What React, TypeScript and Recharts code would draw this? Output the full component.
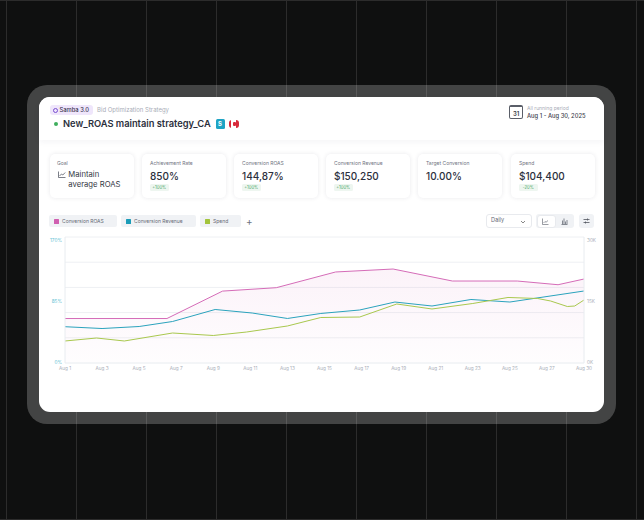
import { Area, CartesianGrid, ComposedChart, Line, XAxis, YAxis } from "recharts";

const roasDays = [1, 6.5, 9.5, 12.4, 15.6, 18.7, 21.9, 25.4, 27.6, 29];
const roasValues = [60, 60, 97, 101.6, 122.8, 126.8, 110.6, 110.6, 105.6, 113.3];

const revenueDays = [1, 3, 5, 6.8, 9.1, 11.1, 13, 14.8, 16.9, 18.8, 20.8, 22.9, 25, 29];
const revenueValues = [8.64, 8.21, 8.69, 9.88, 12.74, 11.9, 10.6, 11.79, 12.62, 14.52, 13.57, 15.12, 14.52, 17.14];

const spendDays = [1, 2.7, 4.2, 6.8, 9, 10.8, 13, 14.8, 16.9, 18.9, 20.8, 23, 24.9, 26.5, 27.2, 28.1, 28.5, 29];
const spendValues = [5.24, 5.95, 5.24, 7.14, 6.55, 7.38, 8.81, 10.83, 10.95, 14.05, 12.86, 14.17, 15.6, 15.36, 14.76, 13.45, 13.57, 15];

const dayTicks = [1, 3, 5, 7, 9, 11, 13, 15, 17, 19, 21, 23, 25, 27, 29];
const dayLabels = ["Aug 1", "Aug 3", "Aug 5", "Aug 7", "Aug 9", "Aug 11", "Aug 13", "Aug 15", "Aug 17", "Aug 19", "Aug 21", "Aug 23", "Aug 25", "Aug 27", "Aug 30"];
const leftTicks = [0, 85, 170];
const rightTicks = [0, 15, 30];
const gridValues = [34, 68, 102, 136, 170];

const backgroundLines = [6, 76, 146, 216, 286, 356, 426, 496, 566, 636];

const kpis = [
  { x: 142, label: "Achievement Rate", value: "850%", badge: "+100%" },
  { x: 234, label: "Conversion ROAS", value: "144,87%", badge: "+100%" },
  { x: 326, label: "Conversion Revenue", value: "$150,250", badge: "+100%" },
  { x: 418, label: "Target Conversion", value: "10.00%", badge: "" },
  { x: 511, label: "Spend", value: "$104,400", badge: "-20%" },
];
const chips = [
  { x: 49, w: 68, color: "#d05fb0", label: "Conversion ROAS" },
  { x: 121, w: 75, color: "#1b9cb8", label: "Conversion Revenue" },
  { x: 200, w: 41, color: "#a3c43c", label: "Spend" },
];

const zip = (days: number[], values: number[]) => days.map((day, i) => ({ day, value: values[i] }));

const box = (left: number, top: number, width: number, height: number, extra: React.CSSProperties = {}): React.CSSProperties => ({
  position: "absolute",
  left,
  top,
  width,
  height,
  boxSizing: "border-box",
  ...extra,
});

function Label({ x, y, size, color, weight, children }: any) {
  return (
    <div style={{ position: "absolute", left: x, top: y, fontSize: size, color, fontWeight: weight || 400, lineHeight: 1, whiteSpace: "nowrap" }}>
      {children}
    </div>
  );
}

function LeftTick({ x, y, payload, index }: any) {
  const shift = [-1, 1, 3][index] || 0;
  return (
    <text x={x} y={y + shift} textAnchor="end" dominantBaseline="central" fontSize={4.7} fill="#62c0d4">
      {payload.value}%
    </text>
  );
}

function RightTick({ x, y, payload, index }: any) {
  const shift = [-1, 1, 3][index] || 0;
  return (
    <text x={x} y={y + shift} textAnchor="start" dominantBaseline="central" fontSize={4.7} fill="#a9aeb8">
      {payload.value}K
    </text>
  );
}

function Chart() {
  return (
    <ComposedChart width={565} height={145} margin={{ top: 5, right: 0, bottom: 0, left: 0 }}>
      <defs>
        <linearGradient id="roasFill" x1="0" y1="0" x2="0" y2="1">
          <stop offset="0%" stopColor="#d66bb8" stopOpacity={0.14} />
          <stop offset="100%" stopColor="#d66bb8" stopOpacity={0.02} />
        </linearGradient>
      </defs>
      <CartesianGrid vertical={false} stroke="#eef0f3" horizontalValues={gridValues} yAxisId="left" />
      <XAxis
        xAxisId={0}
        type="number"
        dataKey="day"
        domain={[1, 29]}
        ticks={dayTicks}
        interval={0}
        height={14}
        tickLine={false}
        tickSize={0}
        axisLine={{ stroke: "#e8ecf0" }}
        tickMargin={4}
        tick={{ fontSize: 4.7, fill: "#a9aeb8" }}
        tickFormatter={(v: number) => dayLabels[dayTicks.indexOf(v)]}
      />
      <YAxis yAxisId="left" width={25} domain={[0, 170]} ticks={leftTicks} interval={0} tickLine={false} tickSize={0} axisLine={{ stroke: "#e8ecf0" }} tickMargin={3} tick={<LeftTick />} />
      <YAxis yAxisId="right" orientation="right" width={21} domain={[0, 30]} ticks={rightTicks} interval={0} tickLine={false} tickSize={0} axisLine={{ stroke: "#e8ecf0" }} tickMargin={3} tick={<RightTick />} />
      <Area yAxisId="left" data={zip(roasDays, roasValues)} dataKey="value" type="linear" stroke="#d56cb8" strokeWidth={1} fill="url(#roasFill)" dot={false} isAnimationActive={false} />
      <Line yAxisId="right" data={zip(revenueDays, revenueValues)} dataKey="value" type="linear" stroke="#2ba3bd" strokeWidth={1} dot={false} isAnimationActive={false} />
      <Line yAxisId="right" data={zip(spendDays, spendValues)} dataKey="value" type="linear" stroke="#a9c84e" strokeWidth={1} dot={false} isAnimationActive={false} />
    </ComposedChart>
  );
}

export default function App() {
  return (
    <div style={{ position: "absolute", left: 0, top: 0, width: 644, height: 520, overflow: "hidden", background: "#0f1010", fontFamily: "Inter, sans-serif" }}>
      {backgroundLines.map((x) => (
        <div key={x} style={box(x, 0, 1, 520, { background: "#2c2c2c" })} />
      ))}
      <div style={box(0, 0, 644, 1, { background: "#2c2c2c" })} />
      <div style={box(0, 519, 644, 1, { background: "#2c2c2c" })} />
      <div style={box(27, 85, 589, 339, { background: "rgba(255,255,255,0.22)", borderRadius: 20 })} />
      <div style={box(39, 97, 565, 315, { background: "#fff", borderRadius: 11, overflow: "hidden" })} />

      <div style={box(39, 97, 565, 43, { background: "#fff", borderRadius: "11px 11px 0 0", boxShadow: "0 2px 6px rgba(40,40,70,0.05)" })} />
      <div style={box(50, 105, 43, 10, { background: "#efe6fb", borderRadius: 3 })} />
      <div style={box(52.5, 107.5, 5, 5, { border: "1.3px solid #7a4fd0", borderRadius: 3 })} />
      <Label x={59.5} y={107} size={5.8} color="#3a3550" weight={500}>Samba 3.0</Label>
      <Label x={97} y={107} size={6} color="#a9adb8">Bid Optimization Strategy</Label>
      <div style={box(54, 122, 4, 4, { background: "#3fae5d", borderRadius: 2 })} />
      <Label x={63} y={119.3} size={9.3} color="#2b2f3c" weight={600}>New_ROAS maintain strategy_CA</Label>
      <div style={box(216, 119, 9, 10, { background: "#1ea4c4", borderRadius: 1.5 })} />
      <Label x={218} y={121} size={6} color="#fff" weight={700}>S</Label>
      <div style={box(229, 120, 10, 8, { background: "linear-gradient(90deg,#d8293a 0 25%,#fff 25% 75%,#d8293a 75%)", borderRadius: 3 })} />
      <div style={box(232.5, 122, 3, 4, { background: "#d8293a", borderRadius: 1 })} />

      <div style={box(509, 105, 14, 14, { border: "1px solid #5a5e68", borderRadius: 2, borderTopWidth: 2 })} />
      <Label x={513} y={110.5} size={6} color="#3a3e48" weight={600}>31</Label>
      <Label x={527} y={105.5} size={5} color="#a9adb8">All running period</Label>
      <Label x={527} y={112.8} size={5.8} color="#3d414c" weight={500}>Aug 1 - Aug 30, 2025</Label>

      <div style={box(50, 154, 84, 44, { background: "#fff", borderRadius: 5, boxShadow: "0 0 4px rgba(40,40,70,0.10)" })} />
      <Label x={57} y={160.5} size={5} color="#70747f">Goal</Label>
      <svg style={box(57.5, 171, 8, 7)} viewBox="0 0 8 7">
        <path d="M0.5 0.5V6.5H7.5M1.5 5L3.5 3L4.8 4L7.2 1.5" fill="none" stroke="#444854" strokeWidth="0.7" />
      </svg>
      <Label x={68.3} y={171} size={7.7} color="#353945">Maintain</Label>
      <Label x={68.3} y={181.2} size={7.7} color="#353945">average ROAS</Label>

      {kpis.map((k) => (
        <div key={k.label}>
          <div style={box(k.x, 154, 84, 44, { background: "#fff", borderRadius: 5, boxShadow: "0 0 4px rgba(40,40,70,0.10)" })} />
          <Label x={k.x + 8} y={160.5} size={5} color="#70747f">{k.label}</Label>
          <Label x={k.x + 8} y={170.5} size={10} color="#2b2f3c" weight={500}>{k.value}</Label>
          {k.badge && (
            <div style={box(k.x + 8, 184, 18.5, 7, { background: "#eef6f0", borderRadius: 1.5, color: "#4aa866", fontSize: 4.2, lineHeight: "7px", textAlign: "center" })}>
              {k.badge}
            </div>
          )}
        </div>
      ))}

      {chips.map((c) => (
        <div key={c.label}>
          <div style={box(c.x, 215, c.w, 12, { background: "#f0f2f5", borderRadius: 2 })} />
          <div style={box(c.x + 5, 219, 4.5, 4.5, { background: c.color, borderRadius: 0.5 })} />
          <Label x={c.x + 13} y={218.5} size={5} color="#666a75">{c.label}</Label>
        </div>
      ))}
      <Label x={246} y={216} size={10} color="#70747f">+</Label>

      <div style={box(486, 214, 46, 14, { background: "#fff", border: "1px solid #e8eaee", borderRadius: 3 })} />
      <Label x={491} y={218} size={5.6} color="#666a75">Daily</Label>
      <svg style={box(520, 219.5, 6, 4)} viewBox="0 0 6 4">
        <path d="M1 1L3 3L5 1" fill="none" stroke="#555" strokeWidth="0.7" />
      </svg>
      <div style={box(536, 214, 38, 14, { background: "#f0f2f5", borderRadius: 3 })} />
      <div style={box(536.5, 214.5, 19, 13, { background: "#fff", border: "1px solid #e8eaee", borderRadius: 3 })} />
      <svg style={box(542, 217.5, 7, 7)} viewBox="0 0 7 7">
        <path d="M0.5 0.5V6.5H6.5M1.5 5L3 3.5L4 4.3L6 2.5" fill="none" stroke="#555a66" strokeWidth="0.6" />
      </svg>
      <svg style={box(561, 217.5, 7, 7)} viewBox="0 0 7 7">
        <path d="M0.5 6.5H6.5M1.5 6V2.5M3 6V0.5M4.5 6V3.5M6 6V2" fill="none" stroke="#555a66" strokeWidth="0.7" />
      </svg>
      <div style={box(579, 214, 15, 14, { background: "#f0f2f5", borderRadius: 3 })} />
      <svg style={box(583, 218, 7, 6)} viewBox="0 0 7 6">
        <path d="M0.5 1.5H6.5M0.5 4.5H6.5M4.5 0.5V2.5M2.5 3.5V5.5" fill="none" stroke="#50545e" strokeWidth="0.8" />
      </svg>

      <div style={box(40, 232, 565, 145)}>
        <Chart />
      </div>
    </div>
  );
}
